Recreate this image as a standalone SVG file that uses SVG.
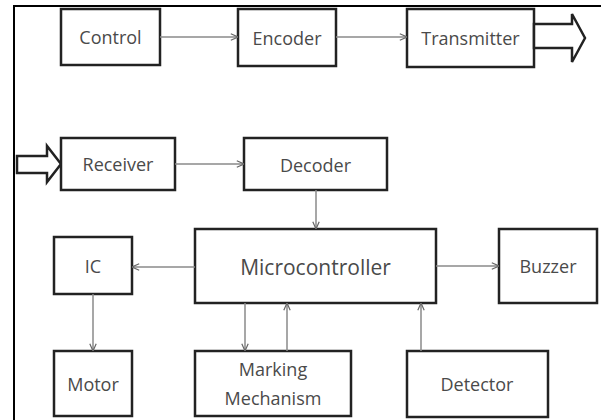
<svg xmlns="http://www.w3.org/2000/svg" width="601" height="420" viewBox="0 0 601 420">
<defs>
<style>
.box{fill:#fff;stroke:#222;stroke-width:2.5}
.lbl{font-family:"Open Sans","Liberation Sans",sans-serif;font-size:18px;fill:#4a4a4a;text-anchor:middle;dominant-baseline:central}
.big{font-size:21px}
.con{stroke:#8a8a8a;stroke-width:1.5;fill:none;marker-end:url(#ah)}
.blk{fill:#fff;stroke:#222;stroke-width:2.5;stroke-linejoin:miter}
</style>
<marker id="ah" viewBox="0 0 10 10" refX="10" refY="5" markerWidth="8" markerHeight="8" markerUnits="userSpaceOnUse" orient="auto">
<path d="M1,1 L10,5 L1,9" fill="none" stroke="#666" stroke-width="1.5"/>
</marker>
</defs>
<rect width="601" height="420" fill="#fff"/>
<path d="M14,420 V6 H601" fill="none" stroke="#000" stroke-width="2"/>
<g id="control"><rect class="box" x="61" y="9" width="99" height="56"/><text class="lbl" x="110.5" y="37">Control</text></g>
<g id="encoder"><rect class="box" x="238" y="9" width="98" height="57"/><text class="lbl" x="287" y="37.5">Encoder</text></g>
<g id="transmitter"><rect class="box" x="407" y="9" width="127" height="58"/><text class="lbl" x="470.5" y="38">Transmitter</text></g>
<g id="tx-out"><polygon class="blk" points="534,24 572,24 572,14 585,38 572,62 572,48 534,48"/></g>
<g id="rx-in"><polygon class="blk" points="17,156 47,156 47,146 61,164 47,182 47,173 17,173"/></g>
<g id="receiver"><rect class="box" x="61" y="138" width="114" height="52"/><text class="lbl" x="118" y="164">Receiver</text></g>
<g id="decoder"><rect class="box" x="244" y="138" width="143" height="52"/><text class="lbl" x="315.5" y="164.5">Decoder</text></g>
<g id="microcontroller"><rect class="box" x="195" y="229" width="241" height="74"/><text class="lbl big" x="315.5" y="267">Microcontroller</text></g>
<g id="ic"><rect class="box" x="54" y="237" width="78" height="57"/><text class="lbl" x="93" y="265.5">IC</text></g>
<g id="buzzer"><rect class="box" x="499" y="229" width="98" height="74"/><text class="lbl" x="548" y="266">Buzzer</text></g>
<g id="motor"><rect class="box" x="54" y="351" width="78" height="65"/><text class="lbl" x="93" y="384">Motor</text></g>
<g id="marking"><rect class="box" x="195" y="351" width="156" height="65"/><text class="lbl" x="273" y="369">Marking</text><text class="lbl" x="273" y="398">Mechanism</text></g>
<g id="detector"><rect class="box" x="407" y="351" width="141" height="66"/><text class="lbl" x="477" y="384">Detector</text></g>
<g id="connectors">
<line class="con" x1="160" y1="37" x2="238" y2="37"/>
<line class="con" x1="336" y1="37" x2="407" y2="37"/>
<line class="con" x1="175" y1="164" x2="244" y2="164"/>
<line class="con" x1="316" y1="190" x2="316" y2="229"/>
<line class="con" x1="195" y1="267" x2="132" y2="267"/>
<line class="con" x1="436" y1="266" x2="499" y2="266"/>
<line class="con" x1="93" y1="294" x2="93" y2="351"/>
<line class="con" x1="245" y1="303" x2="245" y2="351"/>
<line class="con" x1="287" y1="351" x2="287" y2="303"/>
<line class="con" x1="421" y1="351" x2="421" y2="303"/>
</g>
</svg>
